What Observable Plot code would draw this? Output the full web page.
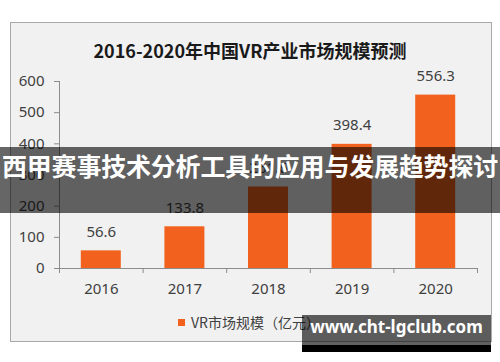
<!DOCTYPE html>
<html>
<head>
<meta charset="utf-8">
<script src="https://cdn.jsdelivr.net/npm/d3@7"></script>
<script src="https://cdn.jsdelivr.net/npm/@observablehq/plot@0.6"></script>
<style>
  html, body { margin: 0; padding: 0; background: #fff; }
  #wrap { position: relative; width: 500px; height: 362px; overflow: hidden; background: #fff; }
  #frame { position: absolute; left: 10px; top: 22px; width: 480px; height: 318px; background: #f1f1f1; border: 1px solid #a9a9a9; }
  #title { position: absolute; left: 0; width: 500px; top: 38px; text-align: center; font: bold 18px "Noto Sans CJK SC", sans-serif; color: #1a1a1a; line-height: 24px; }
  #chart { position: absolute; left: 0; top: 0; }
  #legend { position: absolute; left: 178px; top: 312px; font: 14px "Noto Sans CJK SC", sans-serif; color: #404040; line-height: 20px; display: flex; align-items: center; }
  #legend .sw { width: 7px; height: 7px; margin-right: 6px; display: inline-block; }
  #band { position: absolute; left: 0; top: 147px; width: 500px; height: 66px; background: rgba(0,0,0,0.6); }
  #bandText { position: absolute; left: 0; top: 147px; width: 500px; height: 66px; line-height: 66px; text-align: center; white-space: nowrap; font: bold 25px "Noto Sans CJK SC", sans-serif; color: #fff; letter-spacing: -0.2px; }
  #wm { position: absolute; left: 302px; top: 315px; width: 189px; height: 30px; background: rgba(0,0,0,0.62); }
  #wm2 { position: absolute; left: 302px; top: 345px; width: 189px; height: 7px; background: #000; }
  #wmText { position: absolute; left: 302px; top: 315px; width: 189px; height: 32px; line-height: 32px; text-align: center; font: bold 17px "Noto Sans", "DejaVu Sans", sans-serif; color: #fff; white-space: nowrap; }
</style>
</head>
<body>
<div id="wrap">
  <div id="frame"></div>
  <div id="title"></div>
  <div id="chart"></div>
  <div id="legend"></div>
  <div id="band"></div>
  <div id="bandText"></div>
  <div id="wm"></div>
  <div id="wm2"></div>
  <div id="wmText"></div>
</div>
<script>
const years = [2016, 2017, 2018, 2019, 2020];
const values = [56.6, 133.8, 261.6, 398.4, 556.3];
const yTicks = [0, 100, 200, 300, 400, 500, 600];
const titleText = "2016-2020年中国VR产业市场规模预测";
const seriesName = "VR市场规模（亿元）";
const overlayText = "西甲赛事技术分析工具的应用与发展趋势探讨";
const watermarkText = "www.cht-lgclub.com";
const barColor = "#f2611d";

const data = years.map((year, i) => ({year, value: values[i]}));
const bounds = [...years.map(y => y - 0.5), years[years.length - 1] + 0.5];

document.getElementById("title").textContent = titleText;
document.getElementById("bandText").textContent = overlayText;
document.getElementById("wmText").textContent = watermarkText;
const legend = document.getElementById("legend");
const sw = document.createElement("span");
sw.className = "sw";
sw.style.background = barColor;
legend.appendChild(sw);
legend.appendChild(document.createTextNode(seriesName));

const chart = Plot.plot({
  width: 500,
  height: 362,
  marginLeft: 59,
  marginRight: 23,
  marginTop: 81,
  marginBottom: 94,
  style: {background: "transparent", fontFamily: "'Noto Sans', 'Noto Sans CJK SC', sans-serif", fontSize: "15px", color: "#404040"},
  x: {type: "linear", domain: [bounds[0], bounds[bounds.length - 1]], label: null},
  y: {domain: [0, 600], label: null},
  marks: [
    Plot.rectY(data, {x1: d => d.year - 0.5, x2: d => d.year + 0.5, y: "value", fill: barColor, insetLeft: 21.8, insetRight: 21.8}),
    Plot.ruleY([0], {stroke: "#8c8c8c"}),
    Plot.ruleX([bounds[0]], {stroke: "#8c8c8c"}),
    Plot.axisY({ticks: yTicks, tickSize: 5, tickPadding: 10, stroke: "#8c8c8c", fill: "#404040", tickFormat: d => String(d), fontSize: 15, label: null}),
    Plot.axisX({ticks: bounds, tickSize: 5, tickFormat: () => "", stroke: "#8c8c8c", label: null}),
    Plot.axisX({ticks: years, tickSize: 0, tickPadding: 15, tickFormat: d => String(d), fill: "#404040", fontSize: 15, label: null}),
    Plot.text(data, {x: "year", y: "value", text: d => d.value.toFixed(1), dy: -19, fontSize: 15, fill: "#404040"})
  ]
});
document.getElementById("chart").appendChild(chart);
</script>
</body>
</html>
